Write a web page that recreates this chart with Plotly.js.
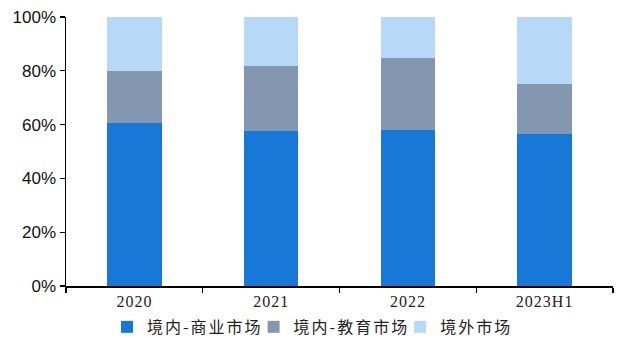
<!DOCTYPE html>
<html>
<head>
<meta charset="utf-8">
<script src="https://cdn.plot.ly/plotly-3.0.1.min.js"></script>
<style>
html,body{margin:0;padding:0;background:#fff;}
#chart{width:617px;height:338px;}
#chart .legendtext{letter-spacing:2px;}
#chart .xtick text{letter-spacing:1px;}
</style>
</head>
<body>
<div id="chart"></div>
<script>
const categories = ["2020", "2021", "2022", "2023H1"];
const seriesNames = ["境内-商业市场", "境内-教育市场", "境外市场"];
const commercial = [60.6, 57.7, 58.0, 56.6];
const education = [19.2, 24.2, 26.6, 18.4];
const overseas = [20.2, 18.1, 15.4, 25.0];
const yTickVals = [0, 20, 40, 60, 80, 100];
const yTickText = ["0%", "20%", "40%", "60%", "80%", "100%"];
const colors = ["#1778d8", "#8497b0", "#b8d8f8"];

const traces = [commercial, education, overseas].map((vals, i) => ({
  type: "bar",
  name: seriesNames[i],
  x: categories,
  y: vals,
  marker: {color: colors[i], line: {width: 0}},
  hoverinfo: "none"
}));

const layout = {
  width: 617, height: 338,
  margin: {l: 66, r: 4, t: 17, b: 52},
  barmode: "stack",
  bargap: 0.6,
  showlegend: true,
  plot_bgcolor: "#fff", paper_bgcolor: "#fff",
  xaxis: {
    type: "category",
    showline: true, linecolor: "#000", linewidth: 1.5,
    ticks: "outside", ticklen: 5, tickcolor: "#000", tickwidth: 1.2,
    tickson: "boundaries",
    tickfont: {family: "Liberation Serif, serif", size: 16, color: "#222"},
    showgrid: false, zeroline: false
  },
  yaxis: {
    range: [0, 100],
    tickvals: yTickVals, ticktext: yTickText,
    showline: true, linecolor: "#000", linewidth: 1.5,
    ticks: "outside", ticklen: 5, tickcolor: "#000", tickwidth: 1.2,
    tickfont: {family: "Liberation Sans, Arial, sans-serif", size: 17, color: "#111"},
    showgrid: false, zeroline: false
  },
  legend: {
    orientation: "h",
    xref: "paper", x: 0.075, xanchor: "left",
    yref: "container", y: 0.083, yanchor: "top",
    font: {family: "Noto Sans CJK SC", size: 16, color: "#222"},
    traceorder: "normal", itemwidth: 30, tracegroupgap: 0,
    itemsizing: "constant", bgcolor: "rgba(0,0,0,0)"
  },
  font: {family: "Noto Sans CJK SC"}
};

Plotly.newPlot("chart", traces, layout, {displayModeBar: false, staticPlot: true});
</script>
</body>
</html>
